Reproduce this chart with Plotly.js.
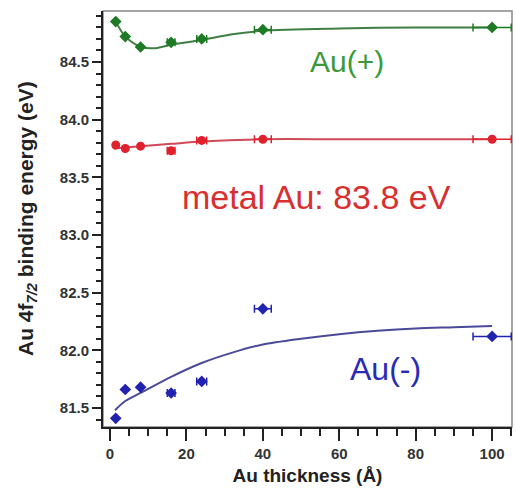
<!DOCTYPE html>
<html>
<head>
<meta charset="utf-8">
<script src="https://cdn.plot.ly/plotly-3.0.1.min.js"></script>
<style>html,body{margin:0;padding:0;background:#fff;}#chart{width:516px;height:494px;}</style>
</head>
<body>
<div id="chart"></div>
<script>
// Measured points (thickness in Å, binding energy in eV)
const thickness = [1.5, 4, 8, 16, 24, 40, 100];
const thicknessErr = [0, 0, 0, 1, 1.3, 2.2, 5];
const auPlus = [84.85, 84.72, 84.63, 84.67, 84.70, 84.78, 84.80];
const metalAu = [83.78, 83.75, 83.77, 83.73, 83.82, 83.83, 83.83];
const auMinus = [81.41, 81.66, 81.68, 81.63, 81.73, 82.36, 82.12];

// Fit curves
const fitPlusX = [1.5, 4, 8, 12, 16, 24, 32, 40, 60, 80, 100];
const fitPlusY = [84.85, 84.72, 84.63, 84.62, 84.65, 84.69, 84.74, 84.77, 84.79, 84.80, 84.80];
const fitMetalX = [1, 8, 16, 24, 40, 60, 80, 100];
const fitMetalY = [83.75, 83.77, 83.79, 83.81, 83.83, 83.83, 83.83, 83.83];
const fitMinusX = [1.3, 4, 8, 16, 24, 32, 40, 50, 60, 70, 80, 90, 100];
const fitMinusY = [81.48, 81.56, 81.63, 81.77, 81.89, 81.98, 82.05, 82.10, 82.14, 82.17, 82.19, 82.20, 82.21];

// Axis ticks
const xMajorTicks = [0, 20, 40, 60, 80, 100];
const yMajorTicks = [81.5, 82.0, 82.5, 83.0, 83.5, 84.0, 84.5];
const yTickText = ["81.5", "82.0", "82.5", "83.0", "83.5", "84.0", "84.5"];

const labels = ["Au(+)", "metal Au: 83.8 eV", "Au(-)"];
const labelX = [62, 54, 72];
const labelY = [84.5, 83.33, 81.84];
const xTitle = "<b>Au thickness (Å)</b>";
const yTitle = "<b>Au 4f<sub><i>7/2</i></sub> binding energy (eV)</b>";

const FONT = "Arial, 'Liberation Sans', sans-serif";
const cGreen = "#1f7a25", cGreenLine = "#3f7f43", cGreenText = "#3a9a3a";
const cRed = "#e0202c", cRedLine = "#cf4a58", cRedText = "#d83030";
const cBlue = "#2222b0", cBlueLine = "#4a4a98", cBlueText = "#2a2ab8";
const AXIS = "#222222";

function fit(x, y, color) {
  return {x: x, y: y, type: "scatter", mode: "lines",
    line: {color: color, width: 2, shape: "spline", smoothing: 0.8},
    hoverinfo: "skip"};
}
function pts(y, color, sym) {
  return {x: thickness, y: y, type: "scatter", mode: "markers",
    marker: {color: color, size: 9, symbol: sym},
    error_x: {type: "data", array: thicknessErr, visible: true, color: color, thickness: 1.5, width: 4}};
}

const data = [
  fit(fitPlusX, fitPlusY, cGreenLine),
  fit(fitMetalX, fitMetalY, cRedLine),
  fit(fitMinusX, fitMinusY, cBlueLine),
  pts(auPlus, cGreen, "diamond"),
  pts(metalAu, cRed, "circle"),
  pts(auMinus, cBlue, "diamond")
];

const layout = {
  width: 516, height: 494,
  margin: {l: 103, r: 4, t: 11, b: 67},
  paper_bgcolor: "#fff", plot_bgcolor: "#fff",
  showlegend: false,
  font: {family: FONT, color: "#333"},
  xaxis: {
    range: [-1.83, 105.2], showgrid: false, zeroline: false,
    tickmode: "array", tickvals: xMajorTicks, ticktext: xMajorTicks.map(v => "<b>" + v + "</b>"),
    ticks: "outside", ticklen: 12, tickwidth: 2, tickcolor: AXIS,
    minor: {dtick: 5, ticks: "outside", ticklen: 7, tickwidth: 1.5, tickcolor: AXIS, showgrid: false},
    showline: true, linecolor: AXIS, linewidth: 2, mirror: false,
    tickfont: {family: FONT, size: 15, color: "#333"},
    title: {text: xTitle, font: {family: FONT, size: 19, color: "#222"}, standoff: 8}
  },
  yaxis: {
    range: [81.335, 84.942], showgrid: false, zeroline: false,
    tickmode: "array", tickvals: yMajorTicks, ticktext: yTickText.map(t => "<b>" + t + "</b>"),
    ticks: "outside", ticklen: 9, tickwidth: 2, tickcolor: AXIS,
    minor: {dtick: 0.1, ticks: "outside", ticklen: 5, tickwidth: 1.5, tickcolor: AXIS, showgrid: false},
    showline: true, linecolor: AXIS, linewidth: 2, mirror: false,
    tickfont: {family: FONT, size: 15, color: "#333"},
    ticksuffix: "  "
  },
  shapes: [{type: "rect", xref: "paper", yref: "paper", x0: 0, x1: 1, y0: 0, y1: 1,
    line: {color: "#888", width: 1.5}, layer: "below"}],
  annotations: [
    {xref: "paper", yref: "paper", x: 0, y: 0.5, xshift: -76, textangle: -90, text: yTitle,
      showarrow: false, xanchor: "center", yanchor: "middle",
      font: {family: FONT, size: 21, color: "#222"}},
    {x: labelX[0], y: labelY[0], text: labels[0], showarrow: false, xanchor: "center", yanchor: "middle",
      font: {family: FONT, size: 30, color: cGreenText}},
    {x: labelX[1], y: labelY[1], text: labels[1], showarrow: false, xanchor: "center", yanchor: "middle",
      font: {family: FONT, size: 34, color: cRedText}},
    {x: labelX[2], y: labelY[2], text: labels[2], showarrow: false, xanchor: "center", yanchor: "middle",
      font: {family: FONT, size: 32, color: cBlueText}}
  ]
};

Plotly.newPlot("chart", data, layout, {displayModeBar: false});
</script>
</body>
</html>
